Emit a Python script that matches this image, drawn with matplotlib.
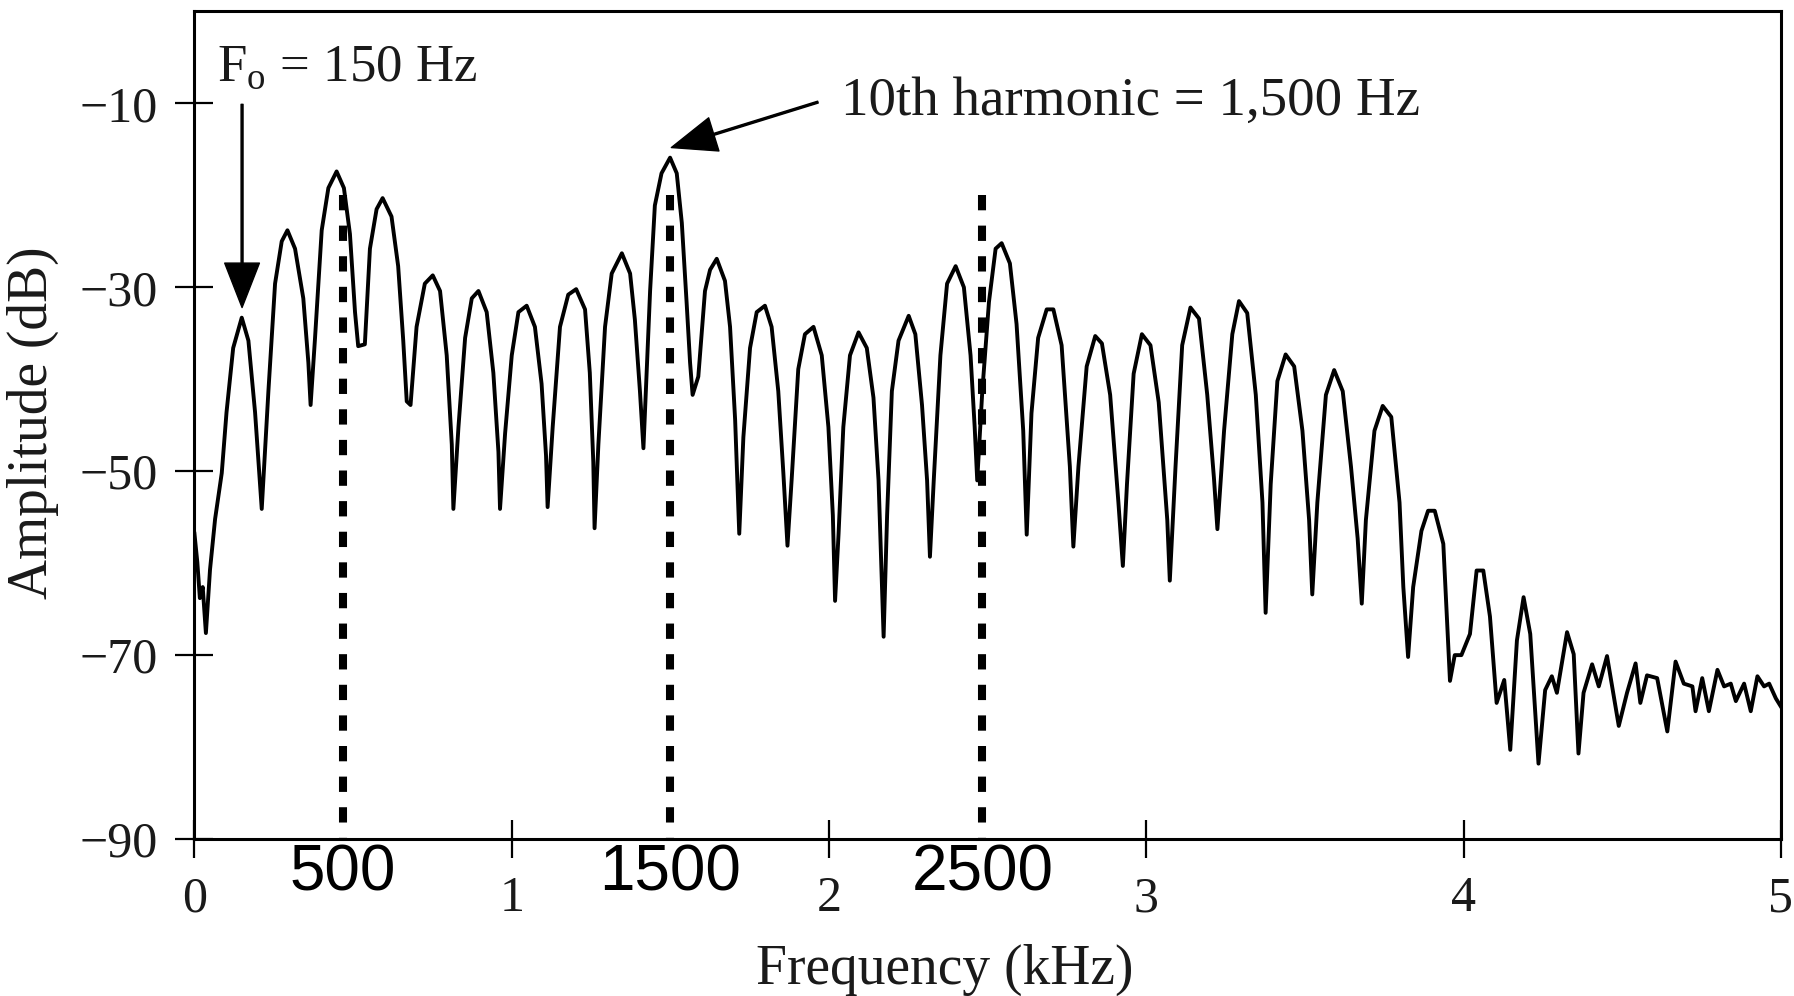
import matplotlib.pyplot as plt

# spectrum: frequency (kHz) and level (dB)
freq_khz = [
    0.0, 0.009, 0.017, 0.026, 0.036, 0.049, 0.065, 0.086, 0.101, 0.122,
    0.149, 0.17, 0.191, 0.212, 0.233, 0.254, 0.275, 0.293, 0.317, 0.343,
    0.359, 0.366, 0.38, 0.401, 0.422, 0.448, 0.471, 0.49, 0.506, 0.516,
    0.537, 0.553, 0.574, 0.593, 0.621, 0.642, 0.658, 0.669, 0.681, 0.7,
    0.726, 0.751, 0.774, 0.795, 0.811, 0.816, 0.832, 0.853, 0.874, 0.895,
    0.921, 0.942, 0.958, 0.963, 0.979, 1.0, 1.021, 1.047, 1.073, 1.094,
    1.108, 1.113, 1.129, 1.152, 1.178, 1.203, 1.231, 1.246, 1.257, 1.261,
    1.273, 1.294, 1.315, 1.347, 1.373, 1.388, 1.404, 1.415, 1.425, 1.436,
    1.451, 1.472, 1.499, 1.52, 1.536, 1.551, 1.562, 1.57, 1.588, 1.609,
    1.625, 1.646, 1.672, 1.688, 1.704, 1.717, 1.73, 1.751, 1.772, 1.798,
    1.819, 1.84, 1.856, 1.869, 1.882, 1.903, 1.924, 1.951, 1.977, 1.998,
    2.012, 2.019, 2.03, 2.045, 2.066, 2.093, 2.119, 2.14, 2.156, 2.172,
    2.183, 2.198, 2.219, 2.251, 2.272, 2.293, 2.309, 2.318, 2.33, 2.351,
    2.372, 2.399, 2.425, 2.446, 2.459, 2.467, 2.483, 2.504, 2.525, 2.544,
    2.57, 2.591, 2.612, 2.623, 2.638, 2.659, 2.686, 2.707, 2.733, 2.759,
    2.77, 2.786, 2.812, 2.839, 2.86, 2.886, 2.912, 2.926, 2.939, 2.96,
    2.986, 3.013, 3.039, 3.066, 3.074, 3.092, 3.113, 3.139, 3.166, 3.192,
    3.213, 3.224, 3.245, 3.271, 3.292, 3.318, 3.345, 3.366, 3.376, 3.392,
    3.413, 3.439, 3.466, 3.492, 3.513, 3.523, 3.539, 3.566, 3.592, 3.619,
    3.645, 3.666, 3.679, 3.692, 3.719, 3.745, 3.772, 3.798, 3.81, 3.825,
    3.841, 3.867, 3.888, 3.909, 3.936, 3.957, 3.972, 3.993, 4.02, 4.041,
    4.062, 4.083, 4.104, 4.128, 4.147, 4.168, 4.189, 4.21, 4.236, 4.257,
    4.278, 4.294, 4.326, 4.347, 4.362, 4.378, 4.405, 4.426, 4.452, 4.489,
    4.515, 4.542, 4.557, 4.578, 4.61, 4.642, 4.668, 4.694, 4.721, 4.731,
    4.752, 4.773, 4.8, 4.821, 4.842, 4.858, 4.884, 4.905, 4.926, 4.947,
    4.963, 4.984, 5.0,
]
amp_db = [
    -56.8, -59.9, -63.8, -62.6, -67.6, -60.7, -55.2, -50.2, -43.6, -36.6,
    -33.3, -35.8, -43.6, -54.1, -41.3, -29.6, -25.0, -23.8, -25.8, -31.2,
    -38.2, -42.8, -35.5, -23.8, -19.2, -17.4, -19.2, -24.2, -32.7, -36.4,
    -36.2, -25.8, -21.5, -20.3, -22.3, -27.7, -35.8, -42.4, -42.8, -34.3,
    -29.6, -28.7, -30.4, -37.4, -47.1, -54.1, -45.2, -35.5, -31.2, -30.4,
    -32.7, -39.3, -47.9, -54.1, -45.9, -37.4, -32.7, -32.0, -34.3, -40.5,
    -48.3, -53.9, -45.2, -34.3, -30.8, -30.2, -32.4, -39.3, -49.0, -56.2,
    -47.1, -34.3, -28.5, -26.3, -28.5, -33.5, -41.3, -47.5, -39.3, -30.4,
    -21.1, -17.6, -15.9, -17.6, -23.0, -31.6, -38.2, -41.7, -39.7, -30.4,
    -28.1, -26.9, -29.3, -34.3, -44.4, -56.8, -46.3, -36.6, -32.7, -32.0,
    -34.3, -41.3, -50.2, -58.1, -51.0, -38.9, -35.1, -34.3, -37.4, -45.2,
    -54.8, -64.1, -56.8, -45.2, -37.4, -34.9, -36.6, -42.0, -51.0, -68.0,
    -54.8, -41.3, -35.8, -33.1, -35.1, -42.8, -51.0, -59.3, -51.0, -37.4,
    -29.6, -27.7, -30.0, -37.4, -45.2, -51.0, -41.3, -31.6, -25.8, -25.2,
    -27.4, -34.0, -45.6, -56.9, -43.7, -35.5, -32.4, -32.4, -36.3, -49.5,
    -58.2, -49.5, -38.6, -35.3, -36.1, -41.7, -53.4, -60.3, -51.4, -39.4,
    -35.1, -36.3, -42.5, -55.3, -61.9, -49.5, -36.3, -32.2, -33.4, -41.7,
    -50.7, -56.3, -45.6, -35.1, -31.5, -32.8, -41.7, -53.4, -65.4, -51.4,
    -40.2, -37.3, -38.6, -45.6, -55.3, -63.4, -53.4, -41.7, -39.0, -41.3,
    -49.5, -57.3, -64.4, -55.3, -45.6, -42.9, -44.1, -53.4, -62.6, -70.2,
    -62.6, -56.5, -54.3, -54.3, -57.9, -72.8, -70.0, -70.0, -67.7, -60.8,
    -60.8, -65.8, -75.2, -72.7, -80.3, -68.4, -63.7, -67.7, -81.8, -73.8,
    -72.3, -74.1, -67.5, -69.9, -80.7, -74.1, -71.0, -73.4, -70.1, -77.7,
    -74.1, -70.9, -75.2, -72.2, -72.5, -78.3, -70.7, -73.1, -73.4, -76.1,
    -72.5, -76.1, -71.6, -73.4, -73.1, -75.0, -73.1, -76.1, -72.3, -73.4,
    -73.1, -74.7, -75.6,
]

# hand-drawn marker lines and their labels
marker_khz = [0.467, 1.5, 2.483]
marker_labels = ["500", "1500", "2500"]
marker_top_db = -20

x_ticks = [0, 1, 2, 3, 4, 5]
y_ticks = [-10, -30, -50, -70, -90]

f0_khz, f0_db = 0.15, -33.3
h10_khz, h10_db = 1.5, -15.9

serif = "Liberation Serif"
ink = "#1a1a1a"

fig = plt.figure(figsize=(17.94, 9.96), dpi=100)
ax = fig.add_axes([0.1084, 0.1576, 0.8843, 0.8309])

ax.plot(freq_khz, amp_db, color="black", lw=2.8, zorder=2)

for x in marker_khz:
    ax.plot([x, x], [marker_top_db, -90], color="black", lw=5.8,
            dashes=(1.9, 1.9), zorder=3, clip_on=False)

for x, lab in zip(marker_khz, marker_labels):
    ax.text(x, -0.042, lab, transform=ax.get_xaxis_transform(),
            ha="center", va="center", fontsize=46,
            family="Liberation Sans", color="black")

ax.set_xlim(0, 5)
ax.set_ylim(-90, 0)
ax.set_xticks(x_ticks)
ax.set_xticklabels([str(t) for t in x_ticks])
ax.set_yticks(y_ticks)
ax.set_yticklabels([str(t).replace("-", "\u2212") for t in y_ticks])
ax.tick_params(direction="inout", length=27, width=1.6, labelsize=36,
               colors="black", labelcolor=ink, pad=13)
for lab in ax.get_xticklabels() + ax.get_yticklabels():
    lab.set_family(serif)
for sp in ax.spines.values():
    sp.set_linewidth(2.2)

fig.text(0.5268, 0.0261, "Frequency (kHz)", ha="center", va="center",
         fontsize=40, family=serif, color=ink)
fig.text(0.0181, 0.5753, "Amplitude (dB)", ha="center", va="center",
         rotation=90, fontsize=40, family=serif, color=ink)

arrow = dict(facecolor="black", edgecolor="black", width=1.4,
             headwidth=25, headlength=32, shrink=0)
ax.annotate("", xy=(f0_khz, f0_db + 1.1), xytext=(f0_khz, -10.1),
            arrowprops=arrow)
ax.text(0.071, -7.6, r"F$_\mathregular{o}$ = 150 Hz", fontsize=38,
        family=serif, color=ink, va="baseline")

ax.annotate("", xy=(h10_khz + 0.003, h10_db + 1.1), xytext=(1.965, -9.86),
            arrowprops=arrow)
ax.text(2.037, -11.2, "10th harmonic = 1,500 Hz", fontsize=39.5,
        family=serif, color=ink, va="baseline")

fig.savefig("out.png", dpi=100)
